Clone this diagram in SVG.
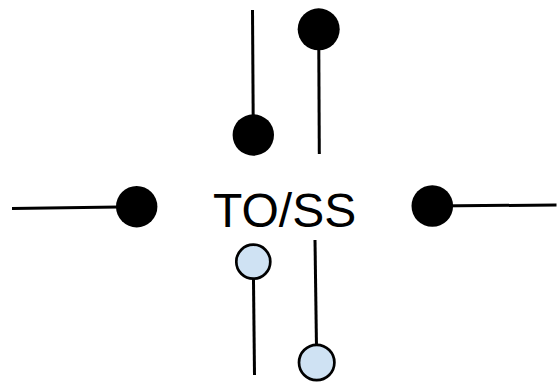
<svg xmlns="http://www.w3.org/2000/svg" width="558" height="385" viewBox="0 0 558 385">
<style>
.wire{stroke:#000;stroke-width:3;fill:none}
.dot{fill:#000}
.open{fill:#cfe2f3;stroke:#000;stroke-width:2.7}
.lbl{font-family:"Liberation Sans",Arial,sans-serif;font-size:48px;fill:#000}
</style>
<rect width="558" height="385" fill="#fff"/>
<g id="connectors">
<line class="wire" x1="12" y1="208.5" x2="136.7" y2="206.7"/>
<line class="wire" x1="432.3" y1="206" x2="556.5" y2="205"/>
<line class="wire" x1="252.5" y1="10" x2="253.3" y2="135"/>
<line class="wire" x1="318.7" y1="29.3" x2="319.3" y2="154"/>
<line class="wire" x1="253.3" y1="262" x2="254.5" y2="375"/>
<line class="wire" x1="315" y1="240" x2="316.7" y2="362.5"/>
</g>
<g id="label">
<text class="lbl" x="213" y="226.7">TO/SS</text>
</g>
<g id="pin-left"><circle class="dot" cx="136.7" cy="206.7" r="20.7"/></g>
<g id="pin-right"><circle class="dot" cx="432.3" cy="206" r="20.8"/></g>
<g id="pin-top-left"><circle class="dot" cx="253.3" cy="135" r="20.7"/></g>
<g id="pin-top-right"><circle class="dot" cx="318.7" cy="29.3" r="21"/></g>
<g id="pin-bottom-left"><circle class="open" cx="253.3" cy="261.7" r="17"/></g>
<g id="pin-bottom-right"><circle class="open" cx="316.7" cy="362.5" r="17.7"/></g>
</svg>
